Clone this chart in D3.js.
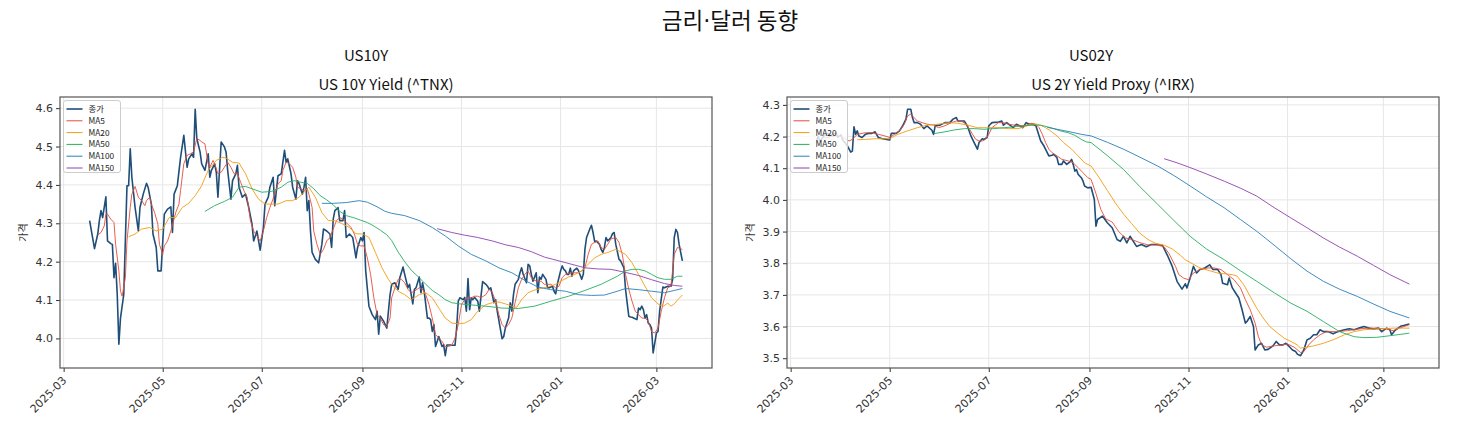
<!DOCTYPE html>
<html><head><meta charset="utf-8">
<script src="https://cdn.jsdelivr.net/npm/d3@7"></script>
<style>
body{margin:0;background:#fff;}
svg{display:block;}
text{font-family:"Noto Sans CJK KR","Noto Sans",sans-serif;}
</style></head><body>
<svg id="chart" width="1459" height="436"></svg>
<script>
// ---------------- DATA ----------------
const figureTitleParts = ["금리", "·", "달러 동향"];
const panelTitles = ["US10Y", "US02Y"];
const panelSubtitles = ["US 10Y Yield (^TNX)", "US 2Y Yield Proxy (^IRX)"];
const legendLabels = ["종가", "MA5", "MA20", "MA50", "MA100", "MA150"];
const yAxisLabel = "가격";
const xTickLabels = ["2025-03", "2025-05", "2025-07", "2025-09", "2025-11", "2026-01", "2026-03"];
const us10YTicks = [4.0, 4.1, 4.2, 4.3, 4.4, 4.5, 4.6];
const us02YTicks = [3.5, 3.6, 3.7, 3.8, 3.9, 4.0, 4.1, 4.2, 4.3];

const us10Close = [["2025-03-17",4.307],["2025-03-20",4.234],["2025-03-22",4.272],["2025-03-23",4.307],["2025-03-24",4.333],["2025-03-25",4.315],["2025-03-27",4.369],["2025-03-28",4.254],["2025-03-30",4.247],["2025-03-31",4.245],["2025-04-01",4.158],["2025-04-02",4.196],["2025-04-03",4.114],["2025-04-04",3.985],["2025-04-05",4.053],["2025-04-07",4.114],["2025-04-09",4.398],["2025-04-10",4.398],["2025-04-11",4.494],["2025-04-12",4.420],["2025-04-14",4.341],["2025-04-16",4.280],["2025-04-17",4.341],["2025-04-19",4.376],["2025-04-21",4.404],["2025-04-22",4.394],["2025-04-24",4.350],["2025-04-25",4.272],["2025-04-27",4.237],["2025-04-28",4.176],["2025-04-30",4.176],["2025-05-02",4.324],["2025-05-04",4.337],["2025-05-06",4.343],["2025-05-07",4.276],["2025-05-08",4.376],["2025-05-10",4.398],["2025-05-12",4.472],["2025-05-14",4.529],["2025-05-16",4.446],["2025-05-17",4.468],["2025-05-19",4.481],["2025-05-20",4.472],["2025-05-21",4.597],["2025-05-22",4.521],["2025-05-24",4.486],["2025-05-25",4.455],["2025-05-27",4.438],["2025-05-29",4.481],["2025-05-30",4.420],["2025-05-31",4.438],["2025-06-02",4.455],["2025-06-03",4.433],["2025-06-04",4.368],["2025-06-06",4.512],["2025-06-08",4.499],["2025-06-09",4.486],["2025-06-10",4.438],["2025-06-12",4.363],["2025-06-13",4.411],["2025-06-15",4.429],["2025-06-16",4.451],["2025-06-17",4.394],["2025-06-19",4.368],["2025-06-21",4.376],["2025-06-23",4.341],["2025-06-25",4.298],["2025-06-26",4.254],["2025-06-28",4.280],["2025-06-30",4.230],["2025-07-02",4.289],["2025-07-03",4.350],["2025-07-05",4.368],["2025-07-06",4.394],["2025-07-08",4.420],["2025-07-09",4.346],["2025-07-11",4.424],["2025-07-13",4.429],["2025-07-15",4.490],["2025-07-16",4.459],["2025-07-17",4.468],["2025-07-19",4.429],["2025-07-20",4.394],["2025-07-22",4.363],["2025-07-23",4.411],["2025-07-24",4.403],["2025-07-26",4.376],["2025-07-27",4.394],["2025-07-28",4.420],["2025-07-29",4.333],["2025-07-30",4.359],["2025-07-31",4.280],["2025-08-01",4.224],["2025-08-03",4.206],["2025-08-05",4.197],["2025-08-07",4.245],["2025-08-08",4.285],["2025-08-10",4.280],["2025-08-12",4.272],["2025-08-13",4.237],["2025-08-14",4.311],["2025-08-15",4.333],["2025-08-17",4.341],["2025-08-18",4.307],["2025-08-20",4.307],["2025-08-21",4.333],["2025-08-22",4.263],["2025-08-24",4.272],["2025-08-26",4.263],["2025-08-28",4.210],["2025-08-29",4.237],["2025-08-31",4.263],["2025-09-01",4.254],["2025-09-02",4.276],["2025-09-03",4.176],["2025-09-05",4.084],["2025-09-07",4.062],["2025-09-09",4.049],["2025-09-10",4.071],["2025-09-11",4.011],["2025-09-12",4.058],["2025-09-14",4.045],["2025-09-16",4.027],["2025-09-17",4.071],["2025-09-18",4.114],["2025-09-19",4.141],["2025-09-21",4.145],["2025-09-23",4.128],["2025-09-24",4.158],["2025-09-26",4.186],["2025-09-27",4.167],["2025-09-29",4.132],["2025-09-30",4.141],["2025-10-01",4.114],["2025-10-02",4.090],["2025-10-03",4.128],["2025-10-04",4.132],["2025-10-06",4.160],["2025-10-07",4.119],["2025-10-08",4.145],["2025-10-09",4.123],["2025-10-11",4.053],["2025-10-12",4.053],["2025-10-13",4.049],["2025-10-14",4.018],["2025-10-15",4.036],["2025-10-16",3.979],["2025-10-18",4.005],["2025-10-19",3.992],["2025-10-20",3.979],["2025-10-21",3.983],["2025-10-22",3.955],["2025-10-23",3.983],["2025-10-25",3.983],["2025-10-26",3.982],["2025-10-28",3.982],["2025-10-29",4.027],["2025-10-30",4.097],["2025-10-31",4.106],["2025-11-02",4.101],["2025-11-03",4.107],["2025-11-04",4.071],["2025-11-05",4.156],["2025-11-06",4.075],["2025-11-07",4.106],["2025-11-08",4.101],["2025-11-09",4.107],["2025-11-11",4.097],["2025-11-12",4.071],["2025-11-13",4.110],["2025-11-14",4.148],["2025-11-16",4.141],["2025-11-17",4.136],["2025-11-18",4.128],["2025-11-19",4.132],["2025-11-21",4.093],["2025-11-22",4.101],["2025-11-23",4.071],["2025-11-25",4.023],["2025-11-26",3.999],["2025-11-27",4.005],["2025-11-28",4.027],["2025-11-30",4.053],["2025-12-01",4.093],["2025-12-02",4.071],["2025-12-03",4.114],["2025-12-04",4.141],["2025-12-06",4.154],["2025-12-07",4.171],["2025-12-08",4.184],["2025-12-09",4.167],["2025-12-11",4.145],["2025-12-12",4.193],["2025-12-13",4.189],["2025-12-14",4.167],["2025-12-15",4.149],["2025-12-17",4.171],["2025-12-18",4.119],["2025-12-19",4.160],["2025-12-20",4.154],["2025-12-21",4.167],["2025-12-23",4.154],["2025-12-24",4.132],["2025-12-25",4.132],["2025-12-27",4.136],["2025-12-28",4.123],["2025-12-29",4.116],["2025-12-30",4.141],["2026-01-01",4.176],["2026-01-02",4.189],["2026-01-03",4.180],["2026-01-04",4.176],["2026-01-05",4.167],["2026-01-06",4.167],["2026-01-07",4.183],["2026-01-08",4.162],["2026-01-09",4.176],["2026-01-10",4.180],["2026-01-11",4.183],["2026-01-12",4.177],["2026-01-14",4.154],["2026-01-15",4.167],["2026-01-16",4.232],["2026-01-17",4.263],["2026-01-19",4.285],["2026-01-20",4.295],["2026-01-21",4.276],["2026-01-22",4.252],["2026-01-23",4.254],["2026-01-25",4.245],["2026-01-26",4.232],["2026-01-27",4.224],["2026-01-28",4.237],["2026-01-29",4.263],["2026-01-30",4.254],["2026-02-01",4.263],["2026-02-02",4.273],["2026-02-03",4.276],["2026-02-04",4.245],["2026-02-06",4.206],["2026-02-07",4.202],["2026-02-08",4.193],["2026-02-09",4.184],["2026-02-10",4.128],["2026-02-12",4.058],["2026-02-13",4.056],["2026-02-14",4.055],["2026-02-15",4.053],["2026-02-17",4.049],["2026-02-18",4.079],["2026-02-19",4.075],["2026-02-20",4.084],["2026-02-21",4.075],["2026-02-22",4.053],["2026-02-23",4.062],["2026-02-24",4.040],["2026-02-25",4.036],["2026-02-26",4.027],["2026-02-27",3.962],["2026-02-28",3.988],["2026-03-01",4.014],["2026-03-02",4.018],["2026-03-03",4.071],["2026-03-05",4.134],["2026-03-06",4.132],["2026-03-07",4.134],["2026-03-08",4.136],["2026-03-10",4.136],["2026-03-11",4.154],["2026-03-12",4.263],["2026-03-13",4.284],["2026-03-14",4.276],["2026-03-15",4.245],["2026-03-17",4.202]];

const us10Ma5 = [["2025-03-22",4.270],["2025-03-24",4.276],["2025-03-26",4.293],["2025-03-27",4.324],["2025-03-28",4.324],["2025-03-30",4.311],["2025-04-01",4.302],["2025-04-02",4.245],["2025-04-04",4.176],["2025-04-05",4.123],["2025-04-06",4.110],["2025-04-08",4.158],["2025-04-09",4.254],["2025-04-11",4.341],["2025-04-12",4.376],["2025-04-14",4.396],["2025-04-16",4.368],["2025-04-18",4.359],["2025-04-20",4.346],["2025-04-21",4.359],["2025-04-23",4.368],["2025-04-24",4.350],["2025-04-26",4.328],["2025-04-28",4.298],["2025-04-29",4.245],["2025-05-01",4.219],["2025-05-02",4.241],["2025-05-04",4.254],["2025-05-06",4.280],["2025-05-08",4.311],["2025-05-09",4.328],["2025-05-11",4.350],["2025-05-12",4.385],["2025-05-14",4.455],["2025-05-16",4.477],["2025-05-18",4.481],["2025-05-20",4.486],["2025-05-22",4.521],["2025-05-24",4.516],["2025-05-25",4.512],["2025-05-27",4.507],["2025-05-29",4.455],["2025-05-30",4.446],["2025-06-01",4.464],["2025-06-02",4.455],["2025-06-04",4.429],["2025-06-06",4.433],["2025-06-08",4.446],["2025-06-10",4.459],["2025-06-12",4.446],["2025-06-14",4.429],["2025-06-16",4.429],["2025-06-18",4.407],["2025-06-20",4.385],["2025-06-22",4.368],["2025-06-24",4.307],["2025-06-26",4.280],["2025-06-28",4.267],["2025-06-30",4.254],["2025-07-02",4.280],["2025-07-04",4.315],["2025-07-06",4.341],["2025-07-09",4.376],["2025-07-11",4.403],["2025-07-13",4.411],["2025-07-14",4.438],["2025-07-16",4.459],["2025-07-18",4.455],["2025-07-20",4.446],["2025-07-22",4.420],["2025-07-23",4.394],["2025-07-25",4.390],["2025-07-27",4.385],["2025-07-29",4.390],["2025-07-30",4.376],["2025-08-01",4.341],["2025-08-02",4.280],["2025-08-04",4.245],["2025-08-06",4.219],["2025-08-08",4.232],["2025-08-10",4.254],["2025-08-12",4.263],["2025-08-14",4.285],["2025-08-16",4.307],["2025-08-18",4.315],["2025-08-20",4.311],["2025-08-22",4.302],["2025-08-25",4.289],["2025-08-27",4.272],["2025-08-29",4.245],["2025-08-31",4.241],["2025-09-02",4.241],["2025-09-04",4.210],["2025-09-06",4.167],["2025-09-08",4.106],["2025-09-10",4.062],["2025-09-12",4.053],["2025-09-14",4.036],["2025-09-16",4.031],["2025-09-18",4.053],["2025-09-19",4.106],["2025-09-21",4.132],["2025-09-23",4.154],["2025-09-25",4.154],["2025-09-27",4.145],["2025-09-29",4.128],["2025-10-01",4.119],["2025-10-03",4.123],["2025-10-06",4.132],["2025-10-08",4.128],["2025-10-10",4.114],["2025-10-12",4.088],["2025-10-14",4.053],["2025-10-16",4.010],["2025-10-18",4.001],["2025-10-20",3.992],["2025-10-22",3.979],["2025-10-24",3.979],["2025-10-26",3.982],["2025-10-28",4.001],["2025-10-30",4.036],["2025-11-01",4.088],["2025-11-03",4.101],["2025-11-05",4.106],["2025-11-07",4.106],["2025-11-09",4.110],["2025-11-11",4.110],["2025-11-13",4.106],["2025-11-16",4.114],["2025-11-18",4.128],["2025-11-20",4.119],["2025-11-22",4.097],["2025-11-24",4.062],["2025-11-26",4.036],["2025-11-28",4.027],["2025-11-30",4.036],["2025-12-02",4.053],["2025-12-04",4.093],["2025-12-06",4.132],["2025-12-08",4.154],["2025-12-10",4.167],["2025-12-12",4.176],["2025-12-14",4.158],["2025-12-16",4.151],["2025-12-18",4.149],["2025-12-20",4.149],["2025-12-22",4.141],["2025-12-24",4.141],["2025-12-26",4.141],["2025-12-29",4.132],["2025-12-31",4.136],["2026-01-02",4.158],["2026-01-04",4.167],["2026-01-06",4.169],["2026-01-08",4.171],["2026-01-10",4.171],["2026-01-12",4.171],["2026-01-14",4.176],["2026-01-16",4.184],["2026-01-18",4.219],["2026-01-20",4.245],["2026-01-22",4.250],["2026-01-24",4.254],["2026-01-26",4.237],["2026-01-28",4.232],["2026-01-30",4.245],["2026-02-01",4.259],["2026-02-04",4.263],["2026-02-06",4.250],["2026-02-08",4.219],["2026-02-10",4.167],["2026-02-12",4.128],["2026-02-14",4.097],["2026-02-16",4.071],["2026-02-18",4.062],["2026-02-20",4.053],["2026-02-22",4.053],["2026-02-24",4.045],["2026-02-26",4.018],["2026-02-28",4.014],["2026-03-02",4.027],["2026-03-04",4.071],["2026-03-06",4.106],["2026-03-08",4.132],["2026-03-10",4.136],["2026-03-12",4.219],["2026-03-14",4.237],["2026-03-17",4.232]];

const us10Ma20 = [["2025-04-10",4.265],["2025-04-14",4.272],["2025-04-18",4.285],["2025-04-23",4.289],["2025-04-27",4.280],["2025-05-01",4.285],["2025-05-05",4.315],["2025-05-09",4.315],["2025-05-13",4.341],["2025-05-17",4.352],["2025-05-21",4.372],["2025-05-25",4.398],["2025-05-29",4.438],["2025-06-03",4.464],["2025-06-07",4.472],["2025-06-09",4.470],["2025-06-13",4.459],["2025-06-17",4.457],["2025-06-21",4.429],["2025-06-25",4.390],["2025-06-29",4.363],["2025-07-03",4.350],["2025-07-07",4.350],["2025-07-11",4.350],["2025-07-16",4.359],["2025-07-20",4.359],["2025-07-24",4.368],["2025-07-28",4.385],["2025-07-30",4.394],["2025-08-03",4.368],["2025-08-07",4.328],["2025-08-11",4.307],["2025-08-15",4.307],["2025-08-19",4.300],["2025-08-24",4.289],["2025-08-28",4.273],["2025-09-01",4.272],["2025-09-05",4.263],["2025-09-09",4.224],["2025-09-13",4.184],["2025-09-17",4.154],["2025-09-19",4.141],["2025-09-23",4.123],["2025-09-27",4.114],["2025-10-01",4.101],["2025-10-06",4.114],["2025-10-10",4.119],["2025-10-14",4.106],["2025-10-18",4.079],["2025-10-22",4.053],["2025-10-26",4.040],["2025-10-30",4.038],["2025-11-03",4.040],["2025-11-07",4.049],["2025-11-11",4.071],["2025-11-16",4.088],["2025-11-20",4.093],["2025-11-24",4.095],["2025-11-28",4.090],["2025-12-02",4.084],["2025-12-05",4.081],["2025-12-08",4.101],["2025-12-12",4.119],["2025-12-16",4.126],["2025-12-20",4.130],["2025-12-24",4.134],["2025-12-29",4.141],["2026-01-02",4.151],["2026-01-06",4.160],["2026-01-10",4.167],["2026-01-14",4.176],["2026-01-18",4.193],["2026-01-22",4.210],["2026-01-26",4.219],["2026-01-30",4.224],["2026-02-04",4.232],["2026-02-06",4.228],["2026-02-10",4.219],["2026-02-14",4.197],["2026-02-18",4.167],["2026-02-22",4.136],["2026-02-26",4.106],["2026-03-02",4.090],["2026-03-05",4.083],["2026-03-08",4.092],["2026-03-10",4.084],["2026-03-12",4.090],["2026-03-14",4.100],["2026-03-17",4.113]];

const us10Ma50 = [["2025-05-27",4.331],["2025-06-02",4.346],["2025-06-08",4.357],["2025-06-13",4.368],["2025-06-17",4.394],["2025-06-21",4.396],["2025-06-25",4.390],["2025-07-01",4.381],["2025-07-07",4.383],["2025-07-13",4.394],["2025-07-17",4.407],["2025-07-21",4.411],["2025-07-25",4.407],["2025-07-29",4.404],["2025-08-02",4.390],["2025-08-06",4.372],["2025-08-10",4.361],["2025-08-14",4.348],["2025-08-18",4.331],["2025-08-22",4.320],["2025-08-27",4.314],["2025-08-31",4.308],["2025-09-04",4.302],["2025-09-08",4.293],["2025-09-12",4.282],["2025-09-16",4.270],["2025-09-19",4.255],["2025-09-23",4.225],["2025-09-27",4.200],["2025-10-01",4.178],["2025-10-06",4.158],["2025-10-10",4.141],["2025-10-14",4.125],["2025-10-18",4.114],["2025-10-22",4.101],["2025-10-26",4.093],["2025-10-31",4.090],["2025-11-05",4.088],["2025-11-16",4.084],["2025-11-26",4.079],["2025-12-06",4.078],["2025-12-16",4.084],["2025-12-26",4.097],["2026-01-06",4.110],["2026-01-16",4.125],["2026-01-26",4.141],["2026-02-05",4.162],["2026-02-10",4.176],["2026-02-14",4.180],["2026-02-18",4.180],["2026-02-22",4.176],["2026-02-26",4.167],["2026-03-02",4.158],["2026-03-06",4.154],["2026-03-10",4.154],["2026-03-14",4.162],["2026-03-17",4.162]];

const us10Ma100 = [["2025-08-07",4.352],["2025-08-14",4.352],["2025-08-22",4.354],["2025-08-30",4.359],["2025-09-04",4.355],["2025-09-10",4.343],["2025-09-15",4.331],["2025-09-19",4.326],["2025-09-27",4.320],["2025-10-06",4.307],["2025-10-14",4.289],["2025-10-22",4.267],["2025-10-30",4.241],["2025-11-07",4.219],["2025-11-16",4.202],["2025-11-24",4.184],["2025-12-02",4.171],["2025-12-10",4.151],["2025-12-18",4.134],["2025-12-26",4.127],["2026-01-04",4.123],["2026-01-12",4.114],["2026-01-20",4.112],["2026-01-28",4.113],["2026-02-05",4.123],["2026-02-10",4.130],["2026-02-18",4.127],["2026-02-26",4.123],["2026-03-06",4.119],["2026-03-12",4.125],["2026-03-17",4.130]];

const us10Ma150 = [["2025-10-17",4.286],["2025-10-26",4.276],["2025-11-03",4.269],["2025-11-11",4.263],["2025-11-20",4.254],["2025-11-28",4.244],["2025-12-06",4.237],["2025-12-14",4.226],["2025-12-22",4.212],["2025-12-31",4.202],["2026-01-08",4.193],["2026-01-16",4.184],["2026-01-24",4.181],["2026-02-01",4.180],["2026-02-10",4.172],["2026-02-18",4.164],["2026-02-26",4.153],["2026-03-06",4.143],["2026-03-12",4.138],["2026-03-17",4.136]];

const us02Close = [["2025-03-17",4.190],["2025-03-18",4.200],["2025-03-19",4.185],["2025-03-22",4.205],["2025-03-24",4.210],["2025-03-25",4.200],["2025-03-26",4.205],["2025-03-29",4.212],["2025-03-30",4.198],["2025-04-01",4.205],["2025-04-02",4.190],["2025-04-05",4.170],["2025-04-07",4.151],["2025-04-08",4.154],["2025-04-09",4.231],["2025-04-10",4.207],["2025-04-11",4.218],["2025-04-12",4.202],["2025-04-14",4.197],["2025-04-16",4.207],["2025-04-18",4.210],["2025-04-20",4.210],["2025-04-22",4.215],["2025-04-24",4.197],["2025-04-26",4.194],["2025-04-29",4.191],["2025-05-01",4.189],["2025-05-02",4.210],["2025-05-05",4.210],["2025-05-07",4.218],["2025-05-09",4.234],["2025-05-11",4.255],["2025-05-12",4.286],["2025-05-14",4.286],["2025-05-15",4.260],["2025-05-16",4.244],["2025-05-18",4.244],["2025-05-20",4.239],["2025-05-22",4.225],["2025-05-24",4.234],["2025-05-27",4.220],["2025-05-28",4.207],["2025-05-29",4.234],["2025-06-01",4.236],["2025-06-04",4.244],["2025-06-07",4.244],["2025-06-09",4.255],["2025-06-11",4.260],["2025-06-12",4.249],["2025-06-14",4.249],["2025-06-16",4.249],["2025-06-18",4.231],["2025-06-20",4.202],["2025-06-22",4.181],["2025-06-24",4.160],["2025-06-25",4.181],["2025-06-27",4.193],["2025-06-28",4.191],["2025-06-30",4.197],["2025-07-01",4.234],["2025-07-03",4.244],["2025-07-07",4.246],["2025-07-09",4.249],["2025-07-10",4.236],["2025-07-12",4.244],["2025-07-14",4.236],["2025-07-16",4.228],["2025-07-18",4.239],["2025-07-20",4.234],["2025-07-22",4.228],["2025-07-24",4.244],["2025-07-26",4.239],["2025-07-28",4.239],["2025-07-30",4.234],["2025-07-31",4.218],["2025-08-01",4.202],["2025-08-02",4.186],["2025-08-04",4.170],["2025-08-06",4.149],["2025-08-07",4.139],["2025-08-09",4.141],["2025-08-10",4.144],["2025-08-12",4.133],["2025-08-13",4.112],["2025-08-15",4.112],["2025-08-16",4.123],["2025-08-18",4.112],["2025-08-20",4.120],["2025-08-21",4.128],["2025-08-22",4.112],["2025-08-23",4.091],["2025-08-24",4.096],["2025-08-25",4.081],["2025-08-27",4.070],["2025-08-28",4.060],["2025-08-29",4.044],["2025-08-31",4.038],["2025-09-02",4.040],["2025-09-04",4.001],["2025-09-05",3.917],["2025-09-06",3.938],["2025-09-09",3.949],["2025-09-12",3.928],["2025-09-15",3.912],["2025-09-18",3.875],["2025-09-20",3.869],["2025-09-22",3.885],["2025-09-24",3.864],["2025-09-26",3.885],["2025-09-30",3.853],["2025-10-03",3.859],["2025-10-06",3.852],["2025-10-09",3.859],["2025-10-13",3.859],["2025-10-16",3.856],["2025-10-19",3.825],["2025-10-22",3.790],["2025-10-25",3.742],["2025-10-28",3.718],["2025-10-30",3.735],["2025-10-31",3.722],["2025-11-02",3.753],["2025-11-04",3.790],["2025-11-06",3.769],["2025-11-08",3.780],["2025-11-11",3.785],["2025-11-14",3.795],["2025-11-16",3.780],["2025-11-19",3.780],["2025-11-21",3.764],["2025-11-22",3.737],["2025-11-25",3.732],["2025-11-26",3.753],["2025-11-28",3.722],["2025-11-30",3.706],["2025-12-02",3.690],["2025-12-04",3.653],["2025-12-06",3.611],["2025-12-07",3.616],["2025-12-09",3.632],["2025-12-11",3.600],["2025-12-12",3.526],["2025-12-14",3.542],["2025-12-16",3.547],["2025-12-18",3.526],["2025-12-20",3.528],["2025-12-23",3.539],["2025-12-25",3.553],["2025-12-27",3.542],["2025-12-29",3.542],["2025-12-31",3.547],["2026-01-02",3.537],["2026-01-04",3.526],["2026-01-06",3.521],["2026-01-07",3.513],["2026-01-09",3.508],["2026-01-11",3.526],["2026-01-13",3.558],["2026-01-15",3.563],["2026-01-17",3.574],["2026-01-19",3.574],["2026-01-21",3.590],["2026-01-23",3.584],["2026-01-26",3.584],["2026-01-29",3.577],["2026-02-01",3.584],["2026-02-05",3.590],["2026-02-08",3.593],["2026-02-11",3.590],["2026-02-14",3.595],["2026-02-17",3.600],["2026-02-20",3.595],["2026-02-23",3.592],["2026-02-26",3.595],["2026-02-28",3.584],["2026-03-03",3.595],["2026-03-05",3.590],["2026-03-06",3.574],["2026-03-08",3.587],["2026-03-10",3.595],["2026-03-12",3.602],["2026-03-14",3.604],["2026-03-17",3.608]];

const us02Ma5 = [["2025-03-22",4.195],["2025-03-26",4.200],["2025-03-30",4.203],["2025-04-03",4.195],["2025-04-06",4.186],["2025-04-08",4.191],["2025-04-11",4.207],["2025-04-16",4.212],["2025-04-20",4.212],["2025-04-24",4.207],["2025-04-28",4.202],["2025-05-01",4.197],["2025-05-04",4.207],["2025-05-07",4.218],["2025-05-10",4.239],["2025-05-12",4.265],["2025-05-14",4.271],["2025-05-16",4.260],["2025-05-18",4.249],["2025-05-21",4.244],["2025-05-24",4.239],["2025-05-28",4.236],["2025-05-31",4.228],["2025-06-04",4.234],["2025-06-08",4.244],["2025-06-11",4.249],["2025-06-14",4.249],["2025-06-17",4.239],["2025-06-19",4.225],["2025-06-21",4.207],["2025-06-23",4.191],["2025-06-25",4.186],["2025-06-27",4.186],["2025-06-29",4.191],["2025-07-01",4.207],["2025-07-03",4.228],["2025-07-07",4.244],["2025-07-10",4.244],["2025-07-13",4.239],["2025-07-17",4.236],["2025-07-21",4.234],["2025-07-24",4.236],["2025-07-27",4.242],["2025-07-30",4.239],["2025-08-01",4.228],["2025-08-03",4.207],["2025-08-05",4.181],["2025-08-07",4.160],["2025-08-09",4.149],["2025-08-12",4.139],["2025-08-15",4.128],["2025-08-19",4.123],["2025-08-22",4.117],["2025-08-25",4.102],["2025-08-28",4.086],["2025-08-31",4.070],["2025-09-02",4.065],["2025-09-05",4.020],["2025-09-08",3.970],["2025-09-11",3.940],["2025-09-15",3.930],["2025-09-19",3.900],["2025-09-23",3.880],["2025-09-27",3.875],["2025-10-02",3.865],["2025-10-07",3.858],["2025-10-13",3.857],["2025-10-17",3.852],["2025-10-20",3.830],["2025-10-24",3.790],["2025-10-26",3.764],["2025-10-29",3.753],["2025-11-01",3.748],["2025-11-04",3.769],["2025-11-08",3.780],["2025-11-13",3.785],["2025-11-17",3.785],["2025-11-21",3.780],["2025-11-25",3.764],["2025-11-29",3.748],["2025-12-03",3.722],["2025-12-06",3.685],["2025-12-09",3.653],["2025-12-12",3.611],["2025-12-14",3.569],["2025-12-16",3.542],["2025-12-19",3.535],["2025-12-24",3.539],["2025-12-28",3.542],["2026-01-01",3.545],["2026-01-05",3.535],["2026-01-09",3.518],["2026-01-11",3.521],["2026-01-14",3.542],["2026-01-17",3.558],["2026-01-21",3.574],["2026-01-25",3.584],["2026-01-31",3.584],["2026-02-07",3.587],["2026-02-13",3.592],["2026-02-19",3.595],["2026-02-25",3.595],["2026-03-03",3.592],["2026-03-07",3.587],["2026-03-11",3.595],["2026-03-17",3.606]];

const us02Ma20 = [["2025-04-11",4.190],["2025-04-16",4.191],["2025-04-22",4.193],["2025-04-28",4.193],["2025-05-01",4.193],["2025-05-06",4.207],["2025-05-12",4.218],["2025-05-18",4.228],["2025-05-24",4.236],["2025-05-31",4.239],["2025-06-06",4.244],["2025-06-12",4.242],["2025-06-18",4.236],["2025-06-24",4.228],["2025-06-30",4.228],["2025-07-07",4.228],["2025-07-13",4.225],["2025-07-19",4.225],["2025-07-23",4.231],["2025-07-27",4.239],["2025-07-31",4.239],["2025-08-04",4.231],["2025-08-08",4.218],["2025-08-12",4.202],["2025-08-16",4.181],["2025-08-21",4.160],["2025-08-25",4.139],["2025-08-29",4.117],["2025-09-02",4.107],["2025-09-07",4.070],["2025-09-12",4.030],["2025-09-17",3.990],["2025-09-22",3.955],["2025-09-27",3.925],["2025-10-02",3.895],["2025-10-07",3.875],["2025-10-12",3.862],["2025-10-17",3.857],["2025-10-22",3.845],["2025-10-27",3.825],["2025-10-30",3.811],["2025-11-08",3.785],["2025-11-19",3.769],["2025-11-28",3.764],["2025-12-01",3.759],["2025-12-05",3.732],["2025-12-09",3.695],["2025-12-13",3.658],["2025-12-17",3.627],["2025-12-21",3.600],["2025-12-26",3.579],["2025-12-30",3.563],["2026-01-03",3.553],["2026-01-07",3.542],["2026-01-09",3.532],["2026-01-13",3.535],["2026-01-17",3.539],["2026-01-23",3.547],["2026-01-29",3.558],["2026-02-05",3.574],["2026-02-11",3.584],["2026-02-17",3.590],["2026-02-23",3.592],["2026-03-01",3.593],["2026-03-07",3.595],["2026-03-13",3.595],["2026-03-17",3.595]];

const us02Ma50 = [["2025-05-28",4.209],["2025-06-04",4.215],["2025-06-10",4.221],["2025-06-16",4.225],["2025-06-22",4.225],["2025-06-28",4.223],["2025-07-04",4.225],["2025-07-11",4.228],["2025-07-17",4.231],["2025-07-23",4.234],["2025-07-29",4.236],["2025-08-02",4.236],["2025-08-06",4.231],["2025-08-10",4.225],["2025-08-14",4.218],["2025-08-19",4.212],["2025-08-23",4.204],["2025-08-27",4.191],["2025-08-30",4.183],["2025-09-02",4.181],["2025-09-12",4.140],["2025-09-22",4.096],["2025-10-02",4.042],["2025-10-13",3.986],["2025-10-23",3.935],["2025-11-02",3.885],["2025-11-12",3.845],["2025-11-23",3.811],["2025-12-03",3.776],["2025-12-13",3.743],["2025-12-24",3.706],["2026-01-03",3.674],["2026-01-13",3.648],["2026-01-23",3.616],["2026-02-02",3.584],["2026-02-11",3.568],["2026-02-17",3.565],["2026-02-25",3.566],["2026-03-05",3.571],["2026-03-17",3.579]];

const us02Ma100 = [["2025-08-06",4.229],["2025-08-14",4.221],["2025-08-20",4.215],["2025-08-27",4.207],["2025-09-02",4.202],["2025-09-12",4.182],["2025-09-22",4.160],["2025-10-02",4.135],["2025-10-13",4.107],["2025-10-23",4.077],["2025-11-02",4.044],["2025-11-12",4.010],["2025-11-23",3.975],["2025-12-03",3.938],["2025-12-13",3.901],["2025-12-23",3.860],["2026-01-03",3.814],["2026-01-13",3.775],["2026-01-23",3.743],["2026-02-02",3.718],["2026-02-13",3.695],["2026-02-23",3.671],["2026-03-05",3.648],["2026-03-17",3.627]];

const us02Ma150 = [["2025-10-17",4.130],["2025-10-25",4.117],["2025-11-02",4.102],["2025-11-12",4.082],["2025-11-23",4.059],["2025-12-03",4.037],["2025-12-13",4.012],["2025-12-23",3.978],["2026-01-03",3.943],["2026-01-13",3.912],["2026-01-23",3.880],["2026-02-02",3.851],["2026-02-13",3.822],["2026-02-23",3.793],["2026-03-05",3.764],["2026-03-17",3.734]];

// ---------------- STYLE ----------------
const seriesColors = ["#1f4e79", "#e74c3c", "#f39c12", "#27ae60", "#2980b9", "#8e44ad"];
const seriesWidths = [1.6, 1, 1, 1, 1, 1];

const parseDay = d3.timeParse("%Y-%m-%d");
const parseMonth = d3.timeParse("%Y-%m");
const svg = d3.select("#chart");

const ft = svg.append("text").attr("x", 730).attr("y", 29).attr("text-anchor", "middle")
  .attr("font-size", 22.5).attr("fill", "#111");
figureTitleParts.forEach((p, i) => {
  const t = ft.append("tspan").text(p);
  if (i === 1) t.style("font-family", "'DejaVu Sans', sans-serif");
});

function drawPanel(cfg) {
  const {x0, y0, w, h, series, yTicks, title, titleX, subtitle, ylabelX, id} = cfg;
  const closeDates = series[0].map(d => parseDay(d[0]));
  const ext = d3.extent(closeDates);
  const span = ext[1] - ext[0];
  const x = d3.scaleTime()
    .domain([new Date(+ext[0] - span * 0.05), new Date(+ext[1] + span * 0.05)])
    .range([x0, x0 + w]);
  const allVals = series.flatMap(s => s.map(d => d[1]));
  const [vmin, vmax] = d3.extent(allVals);
  const pad = (vmax - vmin) * 0.05;
  const y = d3.scaleLinear().domain([vmin - pad, vmax + pad]).range([y0 + h, y0]);

  const g = svg.append("g");
  g.append("text").attr("x", titleX).attr("y", 61).attr("text-anchor", "middle")
    .attr("font-size", 15).attr("fill", "#111").text(title);
  g.append("text").attr("x", x0 + w / 2).attr("y", 89.5).attr("text-anchor", "middle")
    .attr("font-size", 15).attr("fill", "#111").text(subtitle);

  const xTickDates = xTickLabels.map(parseMonth);
  const grid = g.append("g").attr("stroke", "#e6e6e6").attr("stroke-width", 1);
  grid.selectAll(".gx").data(xTickDates).join("line")
    .attr("x1", d => x(d)).attr("x2", d => x(d)).attr("y1", y0).attr("y2", y0 + h);
  grid.selectAll(".gy").data(yTicks).join("line")
    .attr("x1", x0).attr("x2", x0 + w).attr("y1", d => y(d)).attr("y2", d => y(d));

  svg.append("clipPath").attr("id", "clip" + id).append("rect")
    .attr("x", x0).attr("y", y0).attr("width", w).attr("height", h);
  const lineGen = d3.line().x(d => x(parseDay(d[0]))).y(d => y(d[1]));
  const lines = g.append("g").attr("clip-path", `url(#clip${id})`);
  series.forEach((s, i) => {
    lines.append("path").datum(s).attr("d", lineGen).attr("fill", "none")
      .attr("stroke", seriesColors[i]).attr("stroke-width", seriesWidths[i])
      .attr("stroke-linejoin", "round").attr("stroke-opacity", i === 0 ? 1 : 0.9);
  });

  const yAxis = g.append("g").attr("transform", `translate(${x0},0)`)
    .call(d3.axisLeft(y).tickValues(yTicks).tickFormat(d3.format(".1f")).tickSize(4).tickPadding(3));
  yAxis.select(".domain").remove();
  yAxis.selectAll("line").attr("stroke", "#333");
  yAxis.selectAll("text").attr("font-size", 11).attr("fill", "#333")
    .style("font-family", "'DejaVu Sans', sans-serif");

  const xAxis = g.append("g").attr("transform", `translate(0,${y0 + h})`)
    .call(d3.axisBottom(x).tickValues(xTickDates).tickFormat(d3.timeFormat("%Y-%m")).tickSize(4));
  xAxis.select(".domain").remove();
  xAxis.selectAll("line").attr("stroke", "#333");
  xAxis.selectAll("text").attr("font-size", 11).attr("fill", "#333")
    .style("font-family", "'DejaVu Sans', sans-serif")
    .attr("x", 0).attr("y", 0).attr("dy", 0)
    .attr("transform", "translate(3,13) rotate(-45)")
    .style("text-anchor", "end");

  g.append("rect").attr("x", x0).attr("y", y0).attr("width", w).attr("height", h)
    .attr("fill", "none").attr("stroke", "#555").attr("stroke-width", 1.2);

  g.append("text").attr("transform", `translate(${ylabelX},${y0 + h / 2}) rotate(-90)`)
    .attr("text-anchor", "middle").attr("font-size", 10).attr("fill", "#333").text(yAxisLabel);

  const lx = x0 + 3.5, ly = y0 + 3.5;
  const leg = g.append("g");
  leg.append("rect").attr("x", lx).attr("y", ly).attr("width", 57).attr("height", 72).attr("rx", 2.5)
    .attr("fill", "#fff").attr("fill-opacity", 0.8).attr("stroke", "#cccccc").attr("stroke-width", 1);
  legendLabels.forEach((lab, i) => {
    const yy = ly + 8.5 + i * 11.8;
    leg.append("line").attr("x1", lx + 3).attr("x2", lx + 19).attr("y1", yy).attr("y2", yy)
      .attr("stroke", seriesColors[i]).attr("stroke-width", seriesWidths[i]);
    leg.append("text").attr("x", lx + 25).attr("y", yy + 3).attr("font-size", 8.3)
      .attr("fill", "#222").text(lab);
  });
}

drawPanel({id: "a", x0: 60, y0: 97, w: 652, h: 271,
  series: [us10Close, us10Ma5, us10Ma20, us10Ma50, us10Ma100, us10Ma150],
  yTicks: us10YTicks, title: panelTitles[0], titleX: 366, subtitle: panelSubtitles[0], ylabelX: 27});
drawPanel({id: "b", x0: 787, y0: 97, w: 652, h: 271,
  series: [us02Close, us02Ma5, us02Ma20, us02Ma50, us02Ma100, us02Ma150],
  yTicks: us02YTicks, title: panelTitles[1], titleX: 1091, subtitle: panelSubtitles[1], ylabelX: 754});
</script></body></html>
